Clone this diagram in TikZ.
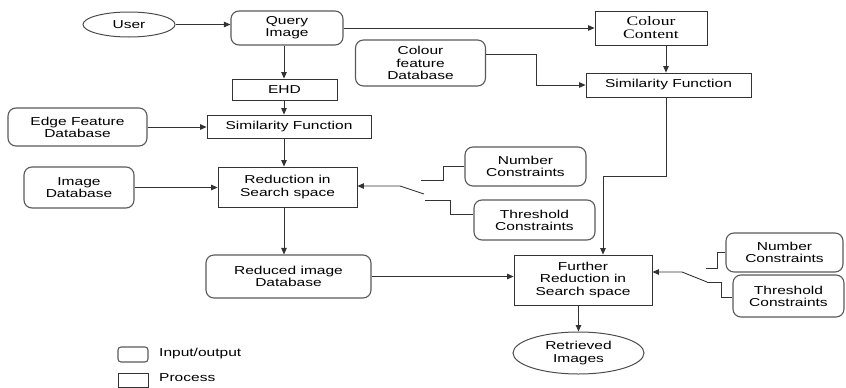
\documentclass[tikz,border=0pt]{standalone}
\usepackage{fontspec}
\setmainfont{Liberation Sans}[FakeStretch=1.35]
\newfontfamily\serifstretch{Liberation Serif}[FakeStretch=1.35]
\usetikzlibrary{arrows.meta,shapes.geometric}
\begin{document}
\begin{tikzpicture}[x=1pt,y=-1pt,
  every node/.style={align=center,inner sep=0pt,font=\fontsize{11.5}{12.2}\selectfont,text=black},
  iobox/.style={draw=black!65,line width=1.1pt,rounded corners=8pt,minimum width=#1},
  procbox/.style={draw=black!80,line width=0.8pt,minimum width=#1},
  oval/.style={ellipse,draw=black!70,line width=1pt},
  conn/.style={draw=black!80,line width=0.9pt},
  arr/.style={conn,-{Triangle[length=6.5pt,width=5.5pt]}}]
\useasboundingbox (0,0) rectangle (846,388);
% nodes
\node[oval,minimum width=92pt,minimum height=25pt] (user) at (129,24.5) {User};
\node[iobox=112pt,minimum height=34pt] (query) at (287,28) {Query\\Image};
\node[procbox=105pt,minimum height=21pt] (ehd) at (284.5,89.5) {EHD};
\node[procbox=164pt,minimum height=23pt] (simL) at (289,126.5) {Similarity Function};
\node[iobox=139pt,minimum height=38pt] (efdb) at (77.5,127) {Edge Feature\\Database};
\node[iobox=130pt,minimum height=46pt] (cfdb) at (420.5,63) {Colour\\feature\\Database};
\node[procbox=112pt,minimum height=34pt,font=\serifstretch\fontsize{13}{13}\selectfont] (colour) at (651,28) {Colour\\Content};
\node[procbox=165pt,minimum height=24pt] (simR) at (668.5,85) {Similarity Function};
\node[procbox=139pt,minimum height=40pt] (red) at (287.5,187) {Reduction in\\Search space};
\node[iobox=110pt,minimum height=41pt] (imgdb) at (79,187.5) {Image\\Database};
\node[iobox=121pt,minimum height=39pt] (nc1) at (525.5,166.5) {Number\\Constraints};
\node[iobox=121pt,minimum height=40pt] (tc1) at (534.5,220) {Threshold\\Constraints};
\node[iobox=165pt,minimum height=43pt] (rdb) at (288.5,276.5) {Reduced image\\Database};
\node[procbox=138pt,minimum height=50pt] (fr) at (583,280) {Further\\Reduction in\\Search space};
\node[oval,minimum width=131pt,minimum height=42pt] (ret) at (578.5,353) {Retrieved\\Images};
\node[iobox=117pt,minimum height=39pt] (nc2) at (784.5,252.5) {Number\\Constraints};
\node[iobox=111pt,minimum height=42pt] (tc2) at (788.5,296) {Threshold\\Constraints};
% legend
\node[iobox=30pt,minimum height=15pt,rounded corners=3pt] (leg1) at (133,354.5) {};
\node[procbox=30pt,minimum height=14pt] (leg2) at (133,380) {};
\node[anchor=west] (leg1t) at (159,354) {Input/output};
\node[anchor=west] (leg2t) at (159,378) {Process};
% helper coordinates
\coordinate (spL) at (284,0);
\coordinate (spR) at (666,0);
\coordinate (cfa) at (536,54);
\coordinate (j) at (603,176);
\coordinate (d1) at (424,194);
\coordinate (k1) at (400,186);
\coordinate (n1) at (421,180);
\coordinate (n1b) at (443,180);
\coordinate (t1) at (425,200);
\coordinate (t1b) at (450,200);
\coordinate (t1c) at (450,214);
\coordinate (d2) at (707,282);
\coordinate (k2) at (682,272);
\coordinate (n2) at (706,268);
\coordinate (n2b) at (717,268);
\coordinate (t2c) at (721,282);
\coordinate (t2d) at (721,297);
% connectors
\draw[arr] (user.east) -- (user.east -| query.west);
\draw[arr] (query.east) -- (colour.west);
\draw[arr] (spL |- query.south) -- (spL |- ehd.north);
\draw[arr] (spL |- ehd.south) -- (spL |- simL.north);
\draw[arr] (efdb.east) -- (efdb.east -| simL.west);
\draw[arr] (spL |- simL.south) -- (spL |- red.north);
\draw[arr] (imgdb.east) -- (imgdb.east -| red.west);
\draw[arr] (spL |- red.south) -- (spL |- rdb.north);
\draw[arr] (rdb.east) -- (rdb.east -| fr.west);
\draw[arr] (spR |- colour.south) -- (spR |- simR.north);
\draw[arr] (cfdb.east |- cfa) -- (cfa) |- (simR.west);
\draw[arr] (spR |- simR.south) |- (j) -- (j |- fr.north);
\draw[arr] (fr.south -| ret.north) -- (ret.north);
% constraints (left)
\draw[arr] (d1) -- (k1) -- (k1 -| red.east);
\draw[conn] (n1) -- (n1b) |- (nc1.west);
\draw[conn] (t1) -- (t1b) -- (t1c) -- (t1c -| tc1.west);
% constraints (right)
\draw[arr] (d2) -- (k2) -- (k2 -| fr.east);
\draw[conn] (n2) -- (n2b) |- (nc2.west);
\draw[conn] (d2) -- (t2c) -- (t2d) -- (t2d -| tc2.west);
\end{tikzpicture}
\end{document}
